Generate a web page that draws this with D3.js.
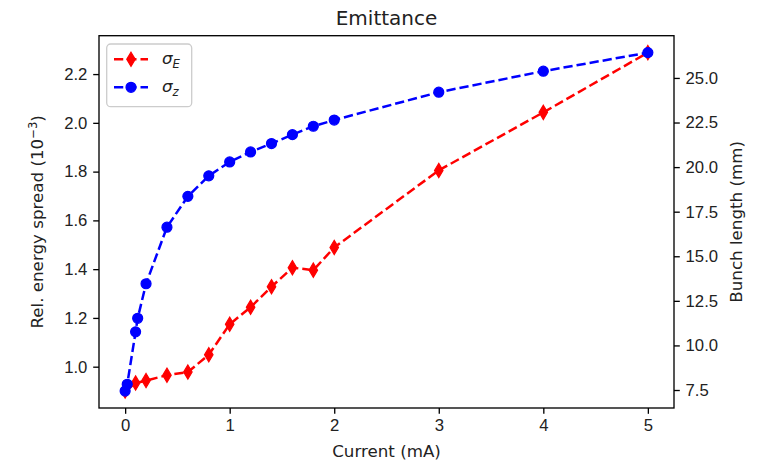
<!DOCTYPE html>
<html>
  <body style="margin:0;background:#fff">
    <style>
      svg { display: block; font-family: "DejaVu Sans", sans-serif; }
      .tick text { fill: #222; font-size: 16.7px; }
      .tick line, .domain { stroke: #000; }
    </style>
    <script src="https://cdnjs.cloudflare.com/ajax/libs/d3/7.8.5/d3.min.js"></script>
    <script type="text/javascript">

      // sigma_E (left axis)
      const currentE = [0, 0.1, 0.2, 0.4, 0.6, 0.8, 1.0, 1.2, 1.4, 1.6, 1.8, 2, 3, 4, 5];
      const sigmaE = [0.90, 0.933, 0.943, 0.965, 0.978, 1.049, 1.174, 1.244, 1.328, 1.406, 1.396, 1.489, 1.805, 2.043, 2.288];

      // sigma_z (right axis)
      const currentZ = [0, 0.02, 0.1, 0.12, 0.2, 0.4, 0.6, 0.8, 1.0, 1.2, 1.4, 1.6, 1.8, 2, 3, 4, 5];
      const sigmaZ = [7.44, 7.82, 10.76, 11.52, 13.46, 16.63, 18.36, 19.51, 20.29, 20.85, 21.32, 21.82, 22.29, 22.64, 24.2, 25.38, 26.42];

      const xTicks = [0, 1, 2, 3, 4, 5];
      const leftTicks = [1.0, 1.2, 1.4, 1.6, 1.8, 2.0, 2.2];
      const rightTicks = [7.5, 10.0, 12.5, 15.0, 17.5, 20.0, 22.5, 25.0];

      const width = 769, height = 463;
      const margin = {top: 35.7, right: 95, bottom: 55, left: 99};
      const w = width - margin.left - margin.right;
      const h = height - margin.top - margin.bottom;

      // matplotlib-like 5% padding
      const pad = (ext) => {
        const d = (ext[1] - ext[0]) * 0.05;
        return [ext[0] - d, ext[1] + d];
      };

      const svg = d3.select('body').append('svg')
        .attr('width', width)
        .attr('height', height);

      const g = svg.append('g')
        .attr('transform', `translate(${margin.left},${margin.top})`);

      const xScale = d3.scaleLinear().domain(pad([0, 5])).range([0, w]);
      const yLeft = d3.scaleLinear().domain(pad(d3.extent(sigmaE))).range([h, 0]);
      const yRight = d3.scaleLinear().domain(pad(d3.extent(sigmaZ))).range([h, 0]);

      const tickLen = 5.8;
      const lw = 2.5;
      const dash = '9.25,4';

      // frame
      g.append('rect')
        .attr('width', w).attr('height', h)
        .attr('fill', 'none').attr('stroke', '#000').attr('stroke-width', 1.33);

      const styleAxis = (sel) => {
        sel.select('.domain').remove();
        sel.selectAll('.tick line').attr('stroke-width', 1.33);
      };

      g.append('g')
        .attr('transform', `translate(0,${h})`)
        .call(d3.axisBottom(xScale).tickValues(xTicks).tickFormat(d3.format('d'))
          .tickSize(tickLen).tickPadding(tickLen))
        .call(styleAxis);

      g.append('g')
        .call(d3.axisLeft(yLeft).tickValues(leftTicks).tickFormat(d3.format('.1f'))
          .tickSize(tickLen).tickPadding(tickLen))
        .call(styleAxis);

      g.append('g')
        .attr('transform', `translate(${w},0)`)
        .call(d3.axisRight(yRight).tickValues(rightTicks).tickFormat(d3.format('.1f'))
          .tickSize(tickLen).tickPadding(tickLen))
        .call(styleAxis);

      g.selectAll('.tick text').attr('font-family', null).attr('font-size', null);

      // series
      const diamond = 'M0,-7.1L4.25,0L0,7.1L-4.25,0Z';

      const lineE = d3.line().x((d, i) => xScale(currentE[i])).y((d) => yLeft(d));
      const lineZ = d3.line().x((d, i) => xScale(currentZ[i])).y((d) => yRight(d));

      g.append('path')
        .attr('d', lineE(sigmaE))
        .attr('fill', 'none').attr('stroke', '#ff0000')
        .attr('stroke-width', lw).attr('stroke-dasharray', dash);

      g.selectAll('.mE')
        .data(sigmaE)
        .enter()
        .append('path')
        .attr('class', 'mE')
        .attr('d', diamond)
        .attr('transform', (d, i) => `translate(${xScale(currentE[i])},${yLeft(d)})`)
        .attr('fill', '#ff0000').attr('stroke', '#ff0000').attr('stroke-width', 1.2);

      g.append('path')
        .attr('d', lineZ(sigmaZ))
        .attr('fill', 'none').attr('stroke', '#0000ff')
        .attr('stroke-width', lw).attr('stroke-dasharray', dash);

      g.selectAll('.mZ')
        .data(sigmaZ)
        .enter()
        .append('circle')
        .attr('class', 'mZ')
        .attr('cx', (d, i) => xScale(currentZ[i]))
        .attr('cy', (d) => yRight(d))
        .attr('r', 5)
        .attr('fill', '#0000ff').attr('stroke', '#0000ff').attr('stroke-width', 1.2);

      // title and labels
      svg.append('text')
        .attr('x', margin.left + w / 2).attr('y', 25)
        .attr('text-anchor', 'middle').attr('font-size', 20).attr('fill', '#222')
        .text('Emittance');

      svg.append('text')
        .attr('x', margin.left + w / 2).attr('y', 457)
        .attr('text-anchor', 'middle').attr('font-size', 16.7).attr('fill', '#222')
        .text('Current (mA)');

      const yl = svg.append('text')
        .attr('transform', `translate(43,${margin.top + h / 2}) rotate(-90)`)
        .attr('text-anchor', 'middle').attr('font-size', 16.7).attr('fill', '#222');
      yl.append('tspan').text('Rel. energy spread (10');
      yl.append('tspan').attr('font-size', 11.7).attr('dy', -6.5).text('\u22123');
      yl.append('tspan').attr('dy', 6.5).text(')');

      svg.append('text')
        .attr('transform', `translate(742,${margin.top + h / 2}) rotate(-90)`)
        .attr('text-anchor', 'middle').attr('font-size', 16.7).attr('fill', '#222')
        .text('Bunch length (mm)');

      // legend
      const legend = svg.append('g');
      legend.append('rect')
        .attr('x', 106.7).attr('y', 44).attr('width', 85).attr('height', 62.7)
        .attr('rx', 4).attr('fill', '#fff').attr('fill-opacity', 0.8)
        .attr('stroke', '#ccc').attr('stroke-width', 1.3);

      const legendItems = [
        {sub: 'E', color: '#ff0000', marker: 'diamond'},
        {sub: 'z', color: '#0000ff', marker: 'circle'},
      ];

      legendItems.forEach((item, i) => {
        const y = 59.3 + i * 28;
        legend.append('line')
          .attr('x1', 114).attr('x2', 148).attr('y1', y).attr('y2', y)
          .attr('stroke', item.color).attr('stroke-width', lw).attr('stroke-dasharray', dash);
        if (item.marker === 'diamond') {
          legend.append('path').attr('d', diamond)
            .attr('transform', `translate(131,${y})`)
            .attr('fill', item.color).attr('stroke', item.color).attr('stroke-width', 1.2);
        } else {
          legend.append('circle').attr('cx', 131).attr('cy', y).attr('r', 5)
            .attr('fill', item.color).attr('stroke', item.color).attr('stroke-width', 1.2);
        }
        const t = legend.append('text')
          .attr('x', 162).attr('y', y + 5).attr('font-size', 16.7)
          .attr('font-style', 'italic').attr('fill', '#222');
        t.append('tspan').text('\u03c3');
        t.append('tspan').attr('font-size', 11.7).attr('dy', 3.5).text(item.sub);
      });

    </script>
  </body>
</html>
